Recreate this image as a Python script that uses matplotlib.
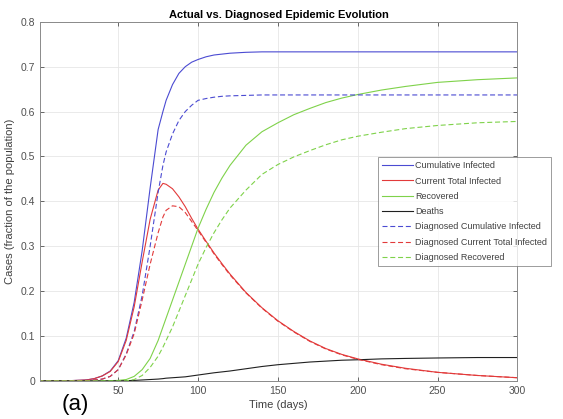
import matplotlib
matplotlib.use('Agg')
import matplotlib.pyplot as plt

plt.rcParams['font.family'] = ['Liberation Sans', 'DejaVu Sans']

# values
days = [0, 20, 30, 35, 40, 45, 50, 55, 60, 65, 70, 75, 78, 80, 84, 88, 92, 96,
        100, 105, 110, 115, 120, 130, 140, 150, 160, 170, 180, 190, 200,
        215, 230, 250, 275, 300]
cum_infected = [0, 0.0005, 0.002, 0.005, 0.011, 0.022, 0.045, 0.095, 0.175, 0.29,
                0.43, 0.56, 0.60, 0.625, 0.66, 0.685, 0.70, 0.71,
                0.716, 0.722, 0.726, 0.728, 0.73, 0.732, 0.733, 0.733, 0.733,
                0.733, 0.733, 0.733, 0.733, 0.733, 0.733, 0.733, 0.733, 0.733]
cur_infected = [0, 0.0005, 0.002, 0.005, 0.011, 0.021, 0.043, 0.09, 0.165, 0.265,
                0.36, 0.425, 0.44, 0.438, 0.428, 0.41, 0.388, 0.362,
                0.338, 0.311, 0.285, 0.261, 0.238, 0.197, 0.163, 0.134, 0.11,
                0.089, 0.072, 0.059, 0.049, 0.037, 0.028, 0.019, 0.012, 0.007]
recovered = [0, 0, 0, 0, 0, 0.0005, 0.001, 0.003, 0.01, 0.025, 0.05, 0.09, 0.12,
             0.14, 0.18, 0.22, 0.26, 0.30,
             0.34, 0.382, 0.42, 0.452, 0.48, 0.525, 0.555, 0.575, 0.593,
             0.607, 0.62, 0.63, 0.638, 0.648, 0.656, 0.665, 0.671, 0.675]
deaths = [0, 0, 0, 0, 0, 0, 0, 0.0005, 0.001, 0.002, 0.003, 0.004, 0.005, 0.006,
          0.007, 0.008, 0.009, 0.011,
          0.013, 0.0155, 0.018, 0.020, 0.022, 0.027, 0.032, 0.036, 0.039,
          0.042, 0.044, 0.046, 0.047, 0.049, 0.050, 0.051, 0.052, 0.052]
diag_cum_infected = [0, 0, 0.001, 0.002, 0.004, 0.01, 0.025, 0.06, 0.11, 0.19, 0.30,
                     0.42, 0.48, 0.51, 0.55, 0.58, 0.60, 0.614,
                     0.625, 0.629, 0.632, 0.634, 0.635, 0.636, 0.637, 0.637, 0.637,
                     0.637, 0.637, 0.637, 0.637, 0.637, 0.637, 0.637, 0.637, 0.637]
diag_cur_infected = [0, 0, 0.001, 0.002, 0.004, 0.01, 0.025, 0.058, 0.105, 0.18, 0.26,
                     0.33, 0.365, 0.38, 0.39, 0.388, 0.375, 0.355,
                     0.335, 0.309, 0.283, 0.259, 0.236, 0.196, 0.162, 0.133, 0.109,
                     0.088, 0.071, 0.058, 0.048, 0.036, 0.027, 0.019, 0.012, 0.007]
diag_recovered = [0, 0, 0, 0, 0, 0, 0, 0, 0.003, 0.012, 0.03, 0.055, 0.075, 0.09,
                  0.12, 0.155, 0.19, 0.225,
                  0.26, 0.297, 0.33, 0.359, 0.385, 0.425, 0.46, 0.482, 0.499,
                  0.513, 0.526, 0.537, 0.545, 0.554, 0.562, 0.569, 0.575, 0.578]

BLUE = '#4b4bd2'
RED = '#e23a3a'
GREEN = '#7fd24a'
BLACK = '#202020'
DASH = (0, (4.5, 2.5))

fig = plt.figure(figsize=(5.63, 4.19), dpi=100)
ax = fig.add_axes([0.071, 0.091, 0.848, 0.857])

ax.plot(days, cum_infected, color=BLUE, lw=0.8, label='Cumulative Infected')
ax.plot(days, cur_infected, color=RED, lw=0.8, label='Current Total Infected')
ax.plot(days, recovered, color=GREEN, lw=0.8, label='Recovered')
ax.plot(days, deaths, color=BLACK, lw=0.8, label='Deaths')
ax.plot(days, diag_cum_infected, color=BLUE, lw=0.8, ls=DASH,
        label='Diagnosed Cumulative Infected')
ax.plot(days, diag_cur_infected, color=RED, lw=0.8, ls=DASH,
        label='Diagnosed Current Total Infected')
ax.plot(days, diag_recovered, color=GREEN, lw=0.8, ls=DASH,
        label='Diagnosed Recovered')

ax.set_xlim(1, 300)
ax.set_ylim(0, 0.8)
ax.set_xticks([50, 100, 150, 200, 250, 300])
ax.set_yticks([0, 0.1, 0.2, 0.3, 0.4, 0.5, 0.6, 0.7, 0.8])
ax.set_yticklabels(['0', '0.1', '0.2', '0.3', '0.4', '0.5', '0.6', '0.7', '0.8'])
ax.grid(True, color='#e6e6e6', lw=0.6)
ax.set_axisbelow(True)
ax.tick_params(direction='in', length=3, width=0.6, labelsize=7.5,
               colors='#505050', top=True, right=True)
for s in ax.spines.values():
    s.set_color('#8a8a8a')
    s.set_linewidth(0.7)

ax.set_title('Actual vs. Diagnosed Epidemic Evolution', fontsize=8,
             fontweight='bold', pad=3)
ax.set_xlabel('Time (days)', fontsize=8, color='#404040', labelpad=3)
ax.set_ylabel('Cases (fraction of the population)', fontsize=8,
              color='#404040', labelpad=4)

leg = fig.legend(loc='upper left', bbox_to_anchor=(0.671, 0.625),
                 fontsize=6.5, frameon=True, fancybox=False,
                 handlelength=3.4, handletextpad=0.3, borderpad=0.45,
                 labelspacing=0.7, borderaxespad=0)
leg.get_frame().set_edgecolor('#707070')
leg.get_frame().set_linewidth(0.6)
for t in leg.get_texts():
    t.set_color('#404040')

fig.text(0.11, 0.035, '(a)', fontsize=16, ha='left', va='center')

fig.savefig('out.png', dpi=100)
